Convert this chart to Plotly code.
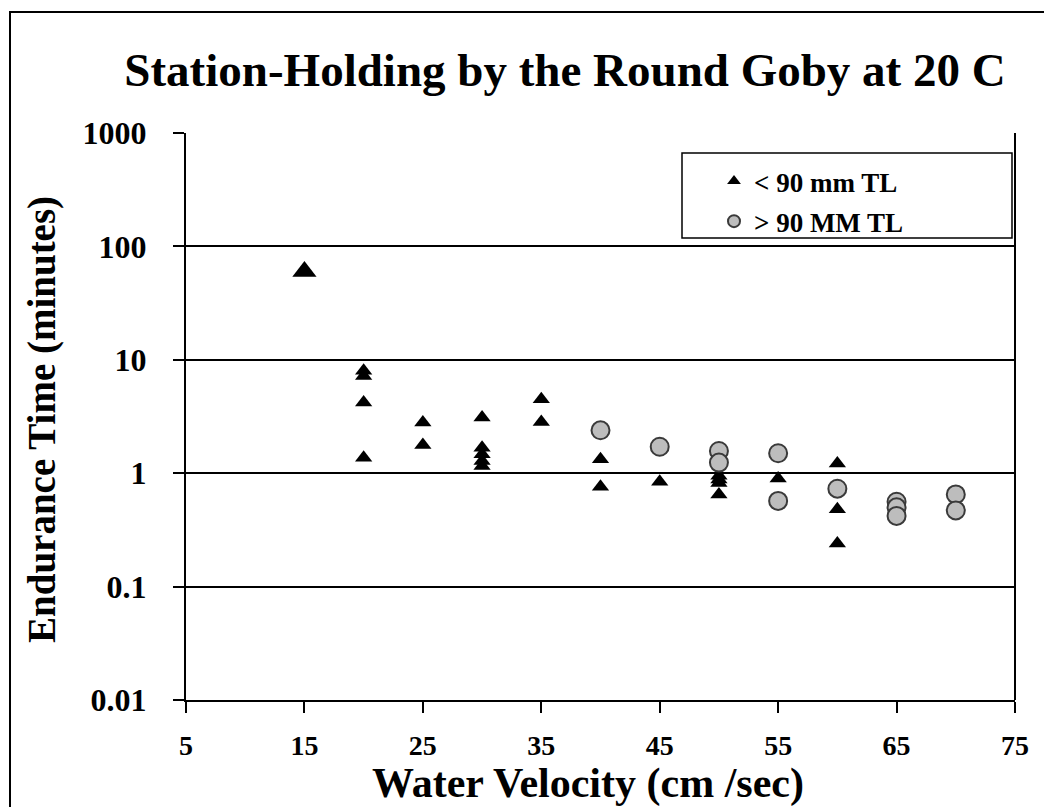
import plotly.graph_objects as go

# ---- data ----
small_x = [20, 20, 20, 20, 25, 25, 30, 30, 30, 30, 30, 35, 35, 40, 40, 45, 50, 50, 50, 50, 55, 60, 60, 60]
small_y = [8.0, 7.2, 4.2, 1.37, 2.8, 1.77, 3.1, 1.68, 1.47, 1.28, 1.16, 4.5, 2.83, 1.33, 0.76, 0.84, 0.95, 0.88, 0.82, 0.65, 0.90, 1.22, 0.48, 0.24]
peak_x = [15]
peak_y = [60]
large_x = [40, 45, 50, 50, 55, 55, 60, 65, 65, 65, 70, 70]
large_y = [2.39, 1.71, 1.57, 1.24, 1.50, 0.57, 0.73, 0.56, 0.50, 0.42, 0.65, 0.47]

x_ticks = [5, 15, 25, 35, 45, 55, 65, 75]
y_ticks = [0.01, 0.1, 1, 10, 100, 1000]
y_tick_text = ["0.01", "0.1", "1", "10", "100", "1000"]

title_text = "Station-Holding by the Round Goby at 20 C"
x_title = "Water Velocity (cm /sec)"
y_title = "Endurance Time (minutes)"
legend_small = "< 90 mm TL"
legend_large = "> 90 MM TL"

SERIF = "Liberation Serif, Times New Roman, serif"

OFF = 8  # page body margin of the browser
W, H = 1052 - OFF, 807 - OFF
L, R, T, B = 186 - OFF, 1015 - OFF, 133 - OFF, 700 - OFF   # plot-area pixel edges


def px_x(p):
    return (p - OFF - L) / (R - L)


def px_y(p):
    return (B - (p - OFF)) / (B - T)


fig = go.Figure()

fig.add_trace(go.Scatter(
    x=small_x, y=small_y, mode="markers", name=f"<b>{legend_small}</b>",
    legendgroup="a",
    marker=dict(symbol="triangle-up", size=15, color="black",
                line=dict(width=0)),
))
fig.add_trace(go.Scatter(
    x=peak_x, y=peak_y, mode="markers", name=legend_small,
    legendgroup="a", showlegend=False,
    marker=dict(symbol="triangle-up", size=21, color="black",
                line=dict(width=0)),
))
fig.add_trace(go.Scatter(
    x=large_x, y=large_y, mode="markers", name=f"<b>{legend_large}</b>",
    legendgroup="b",
    marker=dict(symbol="circle", size=18, color="#bdbdbd",
                line=dict(width=2, color="#3a3a3a")),
))

# outer frame and legend box
shapes = [
    dict(type="rect", xref="paper", yref="paper",
         x0=px_x(10), x1=px_x(1049), y0=px_y(12), y1=px_y(815),
         line=dict(color="black", width=2), fillcolor="rgba(0,0,0,0)", layer="above"),
    dict(type="rect", xref="paper", yref="paper",
         x0=px_x(682), x1=px_x(1012), y0=px_y(153), y1=px_y(238),
         line=dict(color="black", width=1.5), fillcolor="white", layer="below"),
    dict(type="line", xref="paper", yref="paper", x0=1, x1=1, y0=0, y1=1,
         line=dict(color="black", width=2)),
]

annotations = [
    dict(text=f"<b>{y_title}</b>", xref="paper", yref="paper",
         x=px_x(42), y=px_y(420), textangle=-90, showarrow=False,
         xanchor="center", yanchor="middle",
         font=dict(family=SERIF, size=39, color="black")),
    dict(text=f"<b>{x_title}</b>", xref="paper", yref="paper",
         x=px_x(588), y=px_y(783), showarrow=False,
         xanchor="center", yanchor="middle",
         font=dict(family=SERIF, size=42, color="black")),
]

fig.update_layout(
    width=W, height=H,
    margin=dict(l=L, r=W - R, t=T, b=H - B, autoexpand=False),
    paper_bgcolor="white", plot_bgcolor="white",
    title=dict(text=f"<b>{title_text}</b>", x=(565 - OFF) / W, xanchor="center",
               y=1 - (70 - OFF) / H, yanchor="middle", yref="container",
               font=dict(family=SERIF, size=47, color="black")),
    showlegend=True,
    legend=dict(x=px_x(714), y=px_y(157), xanchor="left", yanchor="top",
                bgcolor="rgba(0,0,0,0)", borderwidth=0,
                font=dict(family=SERIF, size=27, color="black"),
                tracegroupgap=2, itemsizing="constant"),
    shapes=shapes,
    annotations=annotations,
    font=dict(family=SERIF, color="black"),
)

fig.update_xaxes(
    range=[5, 75], tickmode="array", tickvals=x_ticks,
    ticktext=[f"<b>{v}</b>" for v in x_ticks],
    showgrid=False, zeroline=False,
    showline=True, linecolor="black", linewidth=2, mirror=False,
    ticks="outside", ticklen=11, tickwidth=1.5, tickcolor="black",
    ticklabelstandoff=8,
    tickfont=dict(family=SERIF, size=28, color="black"),
)
fig.update_yaxes(
    type="log", range=[-2, 3], tickmode="array", tickvals=y_ticks,
    ticktext=[f"<b>{t}</b>" for t in y_tick_text],
    showgrid=True, gridcolor="black", gridwidth=2, zeroline=False,
    showline=True, linecolor="black", linewidth=2, mirror=False,
    ticks="outside", ticklen=11, tickwidth=1.5, tickcolor="black",
    ticklabelstandoff=20,
    tickfont=dict(family=SERIF, size=32, color="black"),
)

fig.write_html("out.html")
